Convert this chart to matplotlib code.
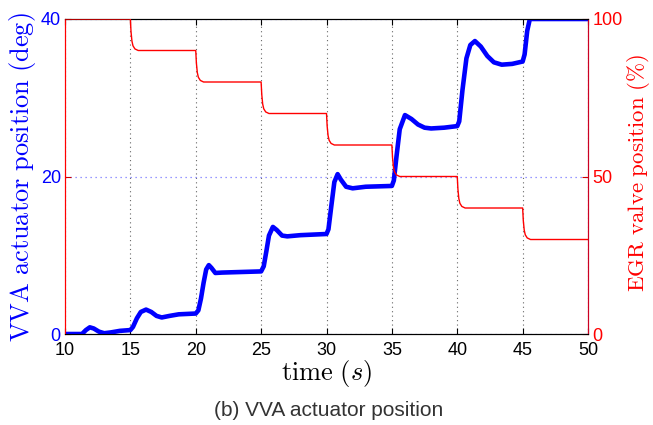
import matplotlib
matplotlib.use("Agg")
import matplotlib.pyplot as plt

plt.rcParams.update({
    "font.family": "Liberation Sans",
    "mathtext.fontset": "cm",
})

# ── data ──────────────────────────────────────────────────────────────────────

# VVA actuator position (deg), thick blue curve, left axis
vva_time = [10.0, 11.3, 11.6, 11.9, 12.2, 12.6, 13.0, 13.5, 14.2, 15.0,
            15.2, 15.5, 15.8, 16.2, 16.6, 17.0, 17.4, 18.0, 18.7, 20.0,
            20.2, 20.4, 20.6, 20.8, 21.0, 21.2, 21.5, 22.0, 23.0, 25.0,
            25.2, 25.4, 25.6, 25.9, 26.2, 26.6, 27.0, 28.0, 30.0,
            30.15, 30.35, 30.6, 30.85, 31.1, 31.5, 32.0, 33.0, 35.0,
            35.15, 35.35, 35.6, 36.0, 36.5, 37.0, 37.5, 38.0, 39.0, 40.0,
            40.15, 40.4, 40.7, 41.0, 41.35, 41.8, 42.3, 42.8, 43.4, 44.2, 45.0,
            45.15, 45.35, 45.55, 50.0]
vva_pos = [0.0, 0.0, 0.5, 0.85, 0.7, 0.3, 0.1, 0.2, 0.4, 0.5,
           0.9, 2.0, 2.8, 3.1, 2.8, 2.3, 2.1, 2.3, 2.5, 2.6,
           3.0, 4.5, 6.5, 8.2, 8.75, 8.4, 7.75, 7.8, 7.85, 7.95,
           8.6, 10.5, 12.5, 13.6, 13.2, 12.5, 12.4, 12.55, 12.7,
           13.3, 16.0, 19.3, 20.3, 19.6, 18.7, 18.5, 18.7, 18.8,
           19.5, 22.5, 26.0, 27.8, 27.3, 26.6, 26.2, 26.1, 26.2, 26.4,
           27.0, 31.0, 35.0, 36.7, 37.2, 36.5, 35.3, 34.5, 34.2, 34.3, 34.6,
           35.5, 38.5, 40.0, 40.0]

# EGR valve position (%), thin red steps, right axis
egr_time = [10.0, 15.0, 15.05, 15.12, 15.2, 15.35, 15.6,
            20.0, 20.05, 20.12, 20.2, 20.35, 20.6,
            25.0, 25.05, 25.12, 25.2, 25.35, 25.6,
            30.0, 30.05, 30.12, 30.2, 30.35, 30.6,
            35.0, 35.05, 35.12, 35.2, 35.35, 35.6,
            40.0, 40.05, 40.12, 40.2, 40.35, 40.6,
            45.0, 45.05, 45.12, 45.2, 45.35, 45.6, 50.0]
egr_pos = [100, 100, 96, 93, 91.5, 90.5, 90,
           90, 86, 83, 81.5, 80.5, 80,
           80, 76, 73, 71.5, 70.5, 70,
           70, 66, 63, 61.5, 60.5, 60,
           60, 56, 53, 51.5, 50.5, 50,
           50, 46, 43, 41.5, 40.5, 40,
           40, 36, 33, 31.5, 30.5, 30, 30]

x_ticks = [10, 15, 20, 25, 30, 35, 40, 45, 50]
left_ticks = [0, 20, 40]
right_ticks = [0, 50, 100]

# ── figure ────────────────────────────────────────────────────────────────────

fig = plt.figure(figsize=(6.53, 4.25), dpi=100)
ax1 = fig.add_axes([0.0995, 0.2141, 0.801, 0.7412])
ax2 = ax1.twinx()

ax1.plot(vva_time, vva_pos, color="#0000ff", lw=3.3, solid_capstyle="round", zorder=3)
ax2.plot(egr_time, egr_pos, color="#ff0000", lw=1.0, zorder=3)

ax1.set_xlim(10, 50)
ax1.set_ylim(0, 40)
ax2.set_ylim(0, 100)
ax1.set_xticks(x_ticks)
ax1.set_yticks(left_ticks)
ax2.set_yticks(right_ticks)

# dotted grid: grey verticals, bluish horizontal at 20
ax1.xaxis.grid(True, ls=(0, (1, 3)), color="#666666", lw=0.8)
ax1.yaxis.grid(True, ls=(0, (1, 3)), color="#7777ff", lw=0.9)
ax1.set_axisbelow(True)

ax1.tick_params(axis="x", direction="in", top=True, length=4, labelsize=13, pad=6)
ax1.tick_params(axis="y", direction="in", length=4, colors="#cc0000", labelcolor="#0000ff",
                labelsize=13, pad=3)
ax2.tick_params(axis="y", direction="in", length=4, colors="#cc0000", labelcolor="#ff0000",
                labelsize=13, pad=3)

for ax in (ax1, ax2):
    ax.spines["top"].set_color("black")
    ax.spines["bottom"].set_color("black")
    ax.spines["left"].set_color("#ff0000")
    ax.spines["right"].set_color("#cc0022")

ax1.set_xlabel(r"$\mathrm{time}\ (s)$", fontsize=19, labelpad=-1)
ax1.set_ylabel(r"$\mathrm{VVA\ actuator\ position\ (deg)}$", fontsize=19, color="#0000ff")
ax1.yaxis.set_label_coords(-0.052, 0.497)
ax2.set_ylabel(r"$\mathrm{EGR\ valve\ position\ (\%)}$", fontsize=16.5, color="#ff0000")
ax2.yaxis.set_label_coords(1.071, 0.51)

fig.text(0.504, 0.035, "(b) VVA actuator position", ha="center", va="center",
         fontsize=15, color="#333333")

fig.savefig("out.png", dpi=100)
